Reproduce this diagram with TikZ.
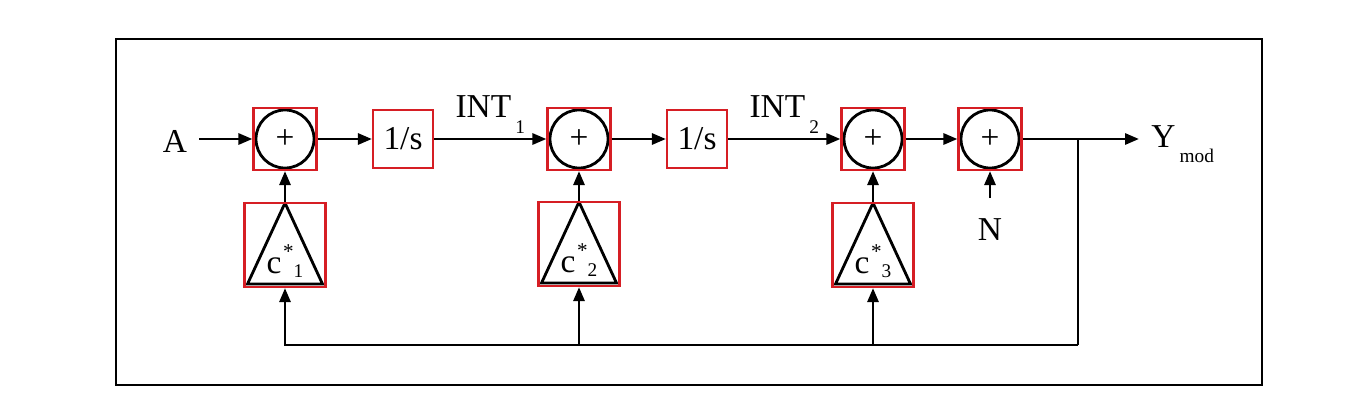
\documentclass[tikz,border=0pt]{standalone}
\usepackage{fontspec}
\setmainfont{Liberation Serif}
\usetikzlibrary{arrows.meta}
\definecolor{boxred}{RGB}{214,30,36}
\newcommand{\lo}[1]{\hspace{0.12em}\raisebox{-0.45em}{\fontsize{5.5}{6}\selectfont #1}}
\newcommand{\gain}[1]{\raisebox{-0.28cm}[0pt][0pt]{c\hspace{0.05em}\raisebox{0.42em}{\fontsize{6}{6}\selectfont *}\raisebox{-0.12em}{\fontsize{5.5}{6}\selectfont #1}}}

\begin{document}
\begin{tikzpicture}[x=0.01cm, y=-0.01cm,
    font=\fontsize{9.5}{11}\selectfont,
    sum/.style={rectangle, draw=boxred, line width=0.6pt, minimum width=0.63cm, minimum height=0.62cm, inner sep=0,
        path picture={\draw[black, line width=0.8pt] (path picture bounding box.center) circle (0.29cm);}},
    integ/.style={rectangle, draw=boxred, line width=0.6pt, minimum width=0.6cm, minimum height=0.58cm, inner sep=0},
    gain/.style={rectangle, draw=boxred, line width=0.6pt, minimum width=0.81cm, minimum height=0.84cm, inner sep=0,
        path picture={\draw[black, line width=0.8pt] (path picture bounding box.north)
            -- ([xshift=0.03cm,yshift=0.03cm]path picture bounding box.south west)
            -- ([xshift=-0.03cm,yshift=0.03cm]path picture bounding box.south east) -- cycle;}},
    arrow/.style={-{Triangle[length=0.14cm,width=0.11cm]}, line width=0.8pt},
    wire/.style={line width=0.8pt}
]
    \useasboundingbox (0,0) rectangle (1371,418);
    \draw[wire] (116,39) rectangle (1262,385);

    % Nodes
    \node[anchor=base] (a) at (175,152) {A};
    \node[sum] (s1) at (285,139) {+};
    \node[integ] (i1) at (403,139) {1/s};
    \node[sum] (s2) at (579,139) {+};
    \node[integ] (i2) at (697,139) {1/s};
    \node[sum] (s3) at (873,139) {+};
    \node[sum] (s4) at (990,139) {+};
    \node[gain] (c1) at (285,245) {\gain{1}};
    \node[gain] (c2) at (579,244) {\gain{2}};
    \node[gain] (c3) at (873,245) {\gain{3}};
    \node[anchor=base, inner sep=0, outer ysep=0.2cm] (n) at (990,240) {N};
    \node[anchor=base west] (y) at (1139,147) {Y\lo{mod}};
    \coordinate (fb) at (1078,139);
    \coordinate (bot) at (1078,345);

    % Arrows
    \draw[arrow] (a.east |- s1.west) -- (s1.west);
    \draw[arrow] (s1) -- (i1);
    \draw[arrow] (i1) -- node[anchor=base, yshift=0.21cm] {INT\lo{1}} (s2);
    \draw[arrow] (s2) -- (i2);
    \draw[arrow] (i2) -- node[anchor=base, yshift=0.21cm] {INT\lo{2}} (s3);
    \draw[arrow] (s3) -- (s4);
    \draw[arrow] (s4) -- (s4.east -| y.west);
    \draw[arrow] (c1) -- (s1);
    \draw[arrow] (c2) -- (s2);
    \draw[arrow] (c3) -- (s3);
    \draw[arrow] (n) -- (s4);

    % Feedback
    \draw[wire] (fb) -- (bot);
    \draw[arrow] (bot) -| (c1);
    \draw[arrow] (bot -| c2) -- (c2);
    \draw[arrow] (bot -| c3) -- (c3);
\end{tikzpicture}
\end{document}
